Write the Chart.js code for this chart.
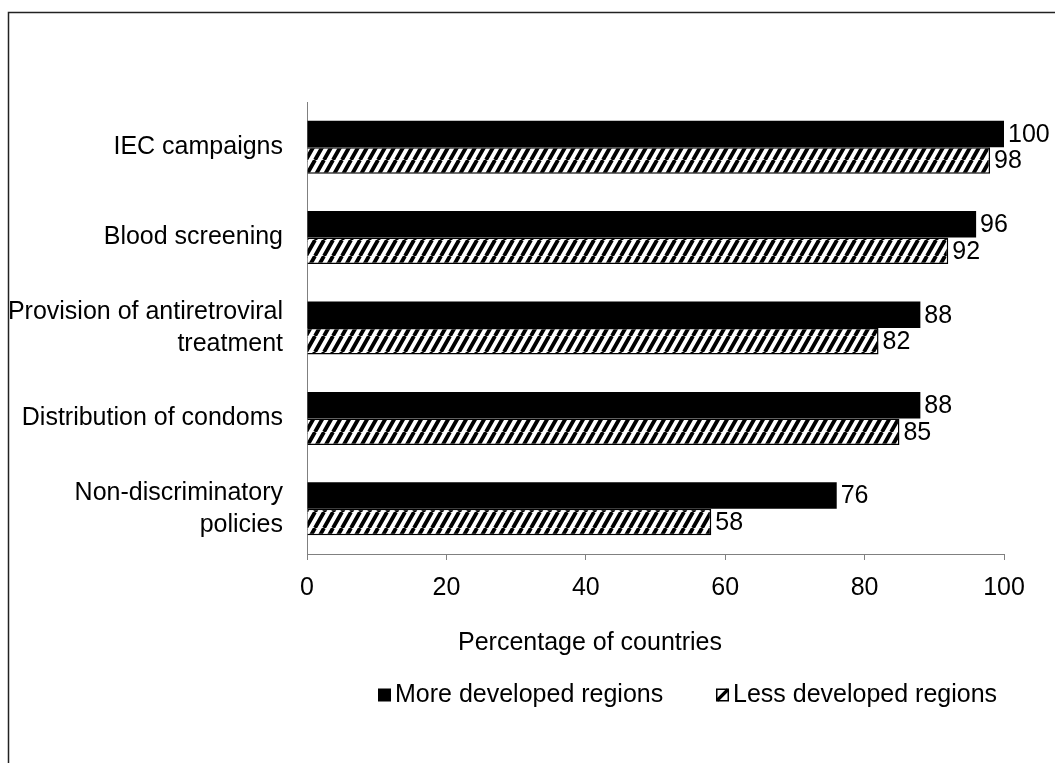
<!DOCTYPE html>
<html>
<head>
<meta charset="utf-8">
<script src="https://cdn.jsdelivr.net/npm/chart.js@4.4.1/dist/chart.umd.min.js"></script>
<style>
  html, body { margin: 0; padding: 0; background: #fff; }
  #wrap { width: 1055px; height: 763px; position: relative; }
</style>
</head>
<body>
<div id="wrap"><canvas id="c" width="1055" height="763"></canvas></div>
<script>
// Measures of HIV/AIDS policy, share of countries
const categories = [
  'IEC campaigns',
  'Blood screening',
  ['Provision of antiretroviral', 'treatment'],
  'Distribution of condoms',
  ['Non-discriminatory', 'policies']
];
const seriesNames = ['More developed regions', 'Less developed regions'];
const moreDeveloped = [100, 96, 88, 88, 76];
const lessDeveloped = [98, 92, 82, 85, 58];
const xTicks = [0, 20, 40, 60, 80, 100];
const xTitle = 'Percentage of countries';

const FONT = '"Liberation Sans", Arial, sans-serif';
const FONT_SIZE = 25;

// diagonal hatch fill for the second series
function makeHatch() {
  const w = 9, h = 16;
  const c = document.createElement('canvas');
  c.width = w; c.height = h;
  const g = c.getContext('2d');
  g.fillStyle = '#fff';
  g.fillRect(0, 0, w, h);
  g.strokeStyle = '#000';
  g.lineWidth = 3.8;
  g.beginPath();
  for (let k = -1; k <= 1; k++) {
    g.moveTo(k * w, h);
    g.lineTo(k * w + w, 0);
  }
  g.stroke();
  return g.createPattern(c, 'repeat');
}
const hatch = makeHatch();

// outer frame
const framePlugin = {
  id: 'frame',
  beforeDraw(chart) {
    const ctx = chart.ctx;
    ctx.save();
    ctx.fillStyle = '#fff';
    ctx.fillRect(0, 0, chart.width, chart.height);
    ctx.strokeStyle = '#222';
    ctx.lineWidth = 1.5;
    ctx.strokeRect(8.5, 12.5, chart.width + 20, chart.height + 20);
    ctx.restore();
  }
};

// value labels at the end of each bar
const valueLabels = {
  id: 'valueLabels',
  afterDatasetsDraw(chart) {
    const ctx = chart.ctx;
    ctx.save();
    ctx.font = FONT_SIZE + 'px ' + FONT;
    ctx.fillStyle = '#000';
    ctx.textAlign = 'left';
    ctx.textBaseline = 'middle';
    chart.data.datasets.forEach((ds, i) => {
      const meta = chart.getDatasetMeta(i);
      meta.data.forEach((bar, j) => {
        ctx.fillText(String(ds.data[j]), bar.x + 4, bar.y + 1);
      });
    });
    ctx.restore();
  }
};

// axis title and legend row beneath the plot
const footer = {
  id: 'footer',
  afterDraw(chart) {
    const ctx = chart.ctx;
    ctx.save();
    ctx.font = FONT_SIZE + 'px ' + FONT;
    ctx.fillStyle = '#000';
    ctx.textBaseline = 'middle';
    ctx.textAlign = 'center';
    ctx.fillText(xTitle, 590, 643);

    const y = 695;
    const items = [
      { x: 378, fill: '#000', hatched: false },
      { x: 716, fill: '#fff', hatched: true }
    ];
    ctx.textAlign = 'left';
    items.forEach((it, i) => {
      const s = 13;
      const top = y - s / 2;
      ctx.fillStyle = it.fill;
      ctx.fillRect(it.x, top, s, s);
      if (it.hatched) {
        ctx.strokeStyle = '#000';
        ctx.lineWidth = 1.5;
        ctx.strokeRect(it.x + 0.75, top + 0.75, s - 1.5, s - 1.5);
        ctx.lineWidth = 3.2;
        ctx.beginPath();
        ctx.moveTo(it.x + 1, top + s - 1);
        ctx.lineTo(it.x + s - 1, top + 1);
        ctx.stroke();
      }
      ctx.fillStyle = '#000';
      ctx.fillText(chart.data.datasets[i].label, it.x + s + 4, y);
    });
    ctx.restore();
  }
};

new Chart(document.getElementById('c'), {
  type: 'bar',
  data: {
    labels: categories,
    datasets: [
      {
        label: seriesNames[0],
        data: moreDeveloped,
        backgroundColor: '#000',
        borderColor: '#000',
        borderWidth: 0,
        categoryPercentage: 0.586,
        barPercentage: 1.0
      },
      {
        label: seriesNames[1],
        data: lessDeveloped,
        backgroundColor: hatch,
        borderColor: '#000',
        borderWidth: 1.5,
        categoryPercentage: 0.586,
        barPercentage: 1.0
      }
    ]
  },
  options: {
    indexAxis: 'y',
    responsive: false,
    animation: false,
    events: [],
    layout: { padding: { left: 7, top: 102, right: 51, bottom: 150 } },
    plugins: {
      legend: { display: false },
      tooltip: { enabled: false }
    },
    scales: {
      x: {
        min: 0,
        max: 100,
        afterBuildTicks(scale) {
          scale.ticks = xTicks.map(v => ({ value: v }));
        },
        afterFit(scale) { scale.height = 59; },
        grid: {
          drawOnChartArea: false,
          drawTicks: true,
          tickLength: 6,
          color: '#808080'
        },
        border: { display: true, color: '#808080', width: 1 },
        ticks: {
          color: '#000',
          padding: 13,
          font: { family: FONT, size: FONT_SIZE }
        }
      },
      y: {
        afterFit(scale) { scale.width = 300; },
        grid: { display: false, drawTicks: false },
        border: { display: true, color: '#808080', width: 1 },
        ticks: {
          color: '#000',
          padding: 24,
          font: { family: FONT, size: FONT_SIZE, lineHeight: 1.28 }
        }
      }
    }
  },
  plugins: [framePlugin, valueLabels, footer]
});
</script>
</body>
</html>
